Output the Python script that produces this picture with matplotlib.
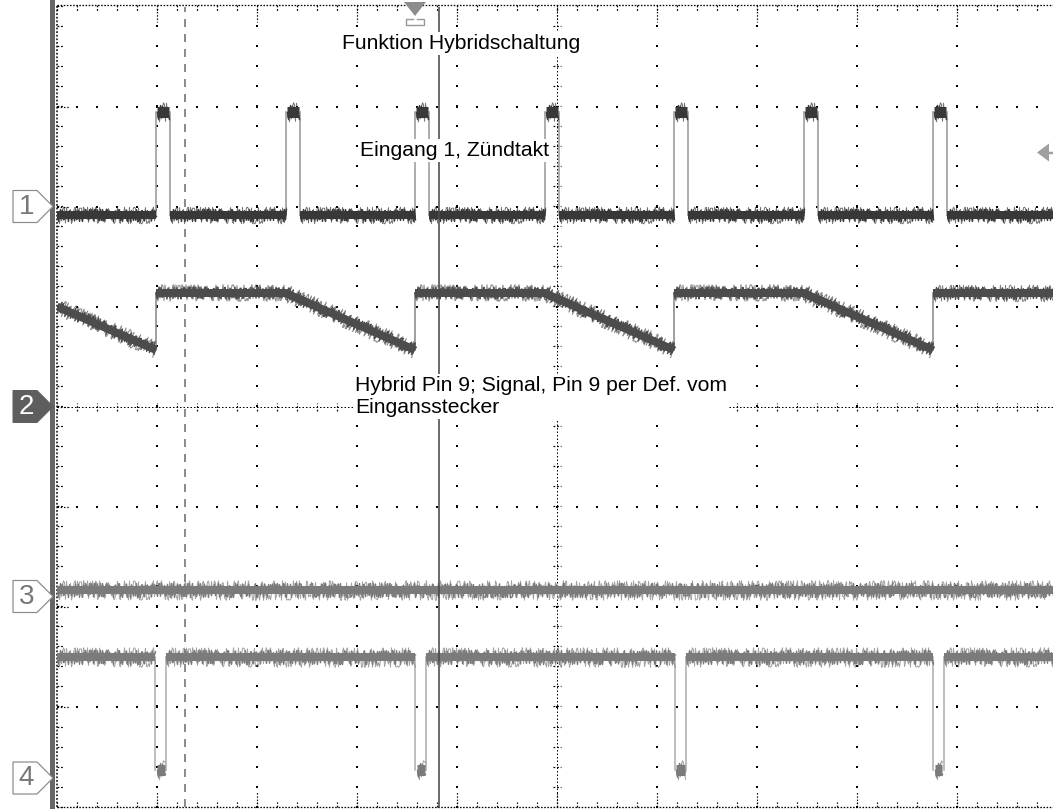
import numpy as np
import matplotlib
matplotlib.use("Agg")
import matplotlib.pyplot as plt
from matplotlib.patches import Polygon, Rectangle

# ---------------- data (oscilloscope divisions: x 0..10, y -4..4) ----------------
ch1_rise = [0.99, 2.285, 3.58, 4.875, 6.17, 7.465, 8.76]
ch1_width = 0.14
ch1_low = 1.915
ch1_high = 2.945

ch2_t = [0.0, 0.99, 0.99, 2.285, 3.58, 3.58, 4.875, 6.17, 6.17, 7.465, 8.76, 8.76, 10.0]
ch2_v = [1.00, 0.565, 1.135, 1.135, 0.565, 1.135, 1.135, 0.565, 1.135, 1.135, 0.565, 1.135, 1.135]

ch3_t = [0.0, 10.0]
ch3_v = [-1.835, -1.835]

ch4_fall = [0.98, 3.58, 6.18, 8.76]
ch4_width = 0.11
ch4_level = -2.505
ch4_low = -3.635

marker_labels = ["1", "2", "3", "4"]
marker_levels = [2.0, 0.0, -1.9, -3.715]
marker_filled = [False, True, False, False]

cursor_solid = 3.82
cursor_dashed = 1.28
trigger_pos = 3.58
trigger_level = 2.54

label_title = "Funktion Hybridschaltung"
label_ch1 = "Eingang 1, Zündtakt"
label_ch2 = "Hybrid Pin 9; Signal, Pin 9 per Def. vom\nEingansstecker"

# ---------------- figure ----------------
W, H = 1053, 809
fig = plt.figure(figsize=(W / 100, H / 100), dpi=100)
fig.patch.set_facecolor("white")
ax = fig.add_axes([57 / W, 2.5 / H, 1000 / W, 800 / H])
ax.set_xlim(0, 10)
ax.set_ylim(-4, 4)
ax.axis("off")

PX = 0.72  # points per pixel
FONT = ["Liberation Sans", "DejaVu Sans"]

# ---------------- graticule ----------------
steps_y = np.arange(-4, 4.001, 0.2)
steps_x = np.arange(0, 10.001, 0.2)
for gx in range(1, 10):
    if gx == 5:
        continue
    ax.scatter(np.full_like(steps_y, gx), steps_y, s=2.2, marker="s", color="black",
               linewidths=0, zorder=1)
for gy in range(-3, 4):
    if gy == 0:
        continue
    ax.scatter(steps_x, np.full_like(steps_x, gy), s=2.2, marker="s", color="black",
               linewidths=0, zorder=1)

# centre axes: dense dots with ticks
ax.plot([5, 5], [-4, 4], color="black", lw=1.0 * PX, ls=(0, (1.5, 2)), zorder=1)
ax.plot([0, 10], [0, 0], color="black", lw=1.0 * PX, ls=(0, (1.5, 2)), zorder=1)
for v in steps_y:
    ax.plot([4.96, 5.04], [v, v], color="black", lw=1.2 * PX, ls=(0, (1.5, 1.5)), zorder=1)
for v in steps_x:
    ax.plot([v, v], [-0.04, 0.04], color="black", lw=1.2 * PX, ls=(0, (1.5, 1.5)), zorder=1)

# border with ticks
ax.plot([0, 10], [4.02, 4.02], color="black", lw=1.3 * PX, ls=(0, (1.2, 1.2)),
        clip_on=False, zorder=1)
ax.plot([0, 10], [-4.0, -4.0], color="black", lw=1.3 * PX, ls=(0, (1.2, 1.2)),
        clip_on=False, zorder=1)
ax.plot([0.0, 0.0], [-4.0, 4.02], color="black", lw=1.5 * PX, ls=(0, (1.2, 1.2)),
        clip_on=False, zorder=1)
for v in steps_x:
    ax.plot([v, v], [4.02, 3.95], color="black", lw=1.2 * PX, clip_on=False,
            ls=(0, (1.5, 1.5)), zorder=1)
    ax.plot([v, v], [-4.0, -3.95], color="black", lw=1.2 * PX, clip_on=False,
            ls=(0, (1.5, 1.5)), zorder=1)
for v in steps_y:
    ax.plot([0.0, 0.06], [v, v], color="black", lw=1.2 * PX, clip_on=False,
            ls=(0, (1.5, 1.5)), zorder=1)
for gx in range(1, 10):
    ax.plot([gx, gx], [4.02, 3.85], color="black", lw=1.2 * PX, ls=(0, (1.2, 1.5)), zorder=1)
    ax.plot([gx, gx], [-4.0, -3.85], color="black", lw=1.2 * PX, ls=(0, (1.2, 1.5)), zorder=1)
for gy in range(-3, 4):
    ax.plot([0, 0.12], [gy, gy], color="black", lw=1.2 * PX, ls=(0, (1.2, 1.5)), zorder=1)

ax.add_patch(Rectangle((-0.07, -4.1), 0.045, 8.2, facecolor="#666666", edgecolor="none",
                       clip_on=False, zorder=2))

# ---------------- cursors ----------------
ax.plot([cursor_dashed, cursor_dashed], [-4, 4], color="#8c8c8c", lw=2 * PX,
        ls=(0, (4, 3.5)), zorder=2)
ax.plot([cursor_solid, cursor_solid], [-4, 4], color="#4a4a4a", lw=1.6 * PX, zorder=6)


# ---------------- trace helpers ----------------
def band(x, y, color, width_px, spike_px, zorder=4):
    ax.plot(x, y, color=color, lw=width_px * PX, solid_capstyle="butt", zorder=zorder)
    ln, = ax.plot(x, y, color=color, lw=1.4 * PX, zorder=zorder)
    ln.set_sketch_params(scale=spike_px, length=1.6, randomness=3.0)
    ln2, = ax.plot(x, y, color=color, lw=1.0 * PX, alpha=0.7, zorder=zorder)
    ln2.set_sketch_params(scale=spike_px * 1.4, length=3.0, randomness=4.0)


def edge(x, y, color):
    ax.plot(x, y, color=color, lw=1.6 * PX, zorder=3)


# channel 1
c1 = "#383838"
starts = [0.0] + [r + ch1_width for r in ch1_rise]
ends = ch1_rise + [10.0]
for s, e in zip(starts, ends):
    band([s, e], [ch1_low, ch1_low], c1, 8, 6)
for r in ch1_rise:
    edge([r, r], [ch1_low, ch1_high], "#9a9a9a")
    edge([r + ch1_width, r + ch1_width], [ch1_high, ch1_low], "#9a9a9a")
    band([r + 0.01, r + ch1_width - 0.01], [ch1_high, ch1_high], c1, 11, 7)

# channel 2
c2 = "#4c4c4c"
seg_t, seg_v = [ch2_t[0]], [ch2_v[0]]
for i in range(1, len(ch2_t)):
    if ch2_t[i] == ch2_t[i - 1]:
        band(seg_t, seg_v, c2, 8, 6)
        edge([ch2_t[i - 1], ch2_t[i]], [ch2_v[i - 1], ch2_v[i]], "#8a8a8a")
        seg_t, seg_v = [ch2_t[i]], [ch2_v[i]]
    else:
        seg_t.append(ch2_t[i])
        seg_v.append(ch2_v[i])
band(seg_t, seg_v, c2, 8, 6)

# channel 3
band(ch3_t, ch3_v, "#7b7b7b", 8, 7)

# channel 4
c4 = "#7b7b7b"
starts = [0.0] + [f + ch4_width for f in ch4_fall]
ends = ch4_fall + [10.0]
for s, e in zip(starts, ends):
    band([s, e], [ch4_level, ch4_level], c4, 8, 7)
for f in ch4_fall:
    edge([f, f], [ch4_level, ch4_low], "#b0b0b0")
    edge([f + ch4_width, f + ch4_width], [ch4_low, ch4_level], "#b0b0b0")
    band([f + 0.015, f + ch4_width - 0.015], [ch4_low, ch4_low], c4, 11, 7)

# ---------------- channel markers ----------------
for lab, lev, filled in zip(marker_labels, marker_levels, marker_filled):
    pts = [(-0.44, lev + 0.16), (-0.20, lev + 0.16), (-0.04, lev),
           (-0.20, lev - 0.16), (-0.44, lev - 0.16)]
    if filled:
        ax.add_patch(Polygon(pts, closed=True, facecolor="#5e5e5e", edgecolor="#5e5e5e",
                             lw=1 * PX, clip_on=False, zorder=5))
        tc = "white"
    else:
        ax.add_patch(Polygon(pts, closed=True, facecolor="white", edgecolor="#8a8a8a",
                             lw=1.2 * PX, clip_on=False, zorder=5))
        tc = "#777777"
    ax.text(-0.305, lev, lab, color=tc, fontsize=20, ha="center", va="center",
            family=FONT, clip_on=False, zorder=6)

# ---------------- trigger markers ----------------
ax.add_patch(Polygon([(trigger_pos - 0.11, 4.045), (trigger_pos + 0.11, 4.045),
                      (trigger_pos, 3.905)], closed=True, facecolor="#8c8c8c",
                     edgecolor="none", clip_on=False, zorder=5))
ax.plot([trigger_pos - 0.02, trigger_pos - 0.09, trigger_pos - 0.09, trigger_pos + 0.09,
         trigger_pos + 0.09, trigger_pos + 0.02],
        [3.875, 3.875, 3.815, 3.815, 3.875, 3.875], color="#999999", lw=1.4 * PX,
        clip_on=False, zorder=5)
ax.add_patch(Polygon([(9.80, trigger_level), (9.92, trigger_level + 0.09),
                      (9.92, trigger_level - 0.09)], closed=True, facecolor="#a0a0a0",
                     edgecolor="none", clip_on=False, zorder=5))
ax.plot([9.91, 10.0], [trigger_level, trigger_level], color="#a0a0a0", lw=2.5 * PX,
        clip_on=False, zorder=5)

# ---------------- labels ----------------
bb = dict(facecolor="white", edgecolor="none", pad=1.5)
ax.text(2.85, 3.575, label_title, fontsize=15.2, family=FONT, ha="left", va="baseline",
        bbox=bb, zorder=8)
ax.text(3.03, 2.505, label_ch1, fontsize=15.2, family=FONT, ha="left", va="baseline",
        bbox=bb, zorder=8)
ax.text(2.98, -0.065, label_ch2, fontsize=15.2, family=FONT, ha="left", va="baseline",
        linespacing=1.2, bbox=bb, zorder=8)

fig.savefig("out.png", dpi=100, facecolor="white")
